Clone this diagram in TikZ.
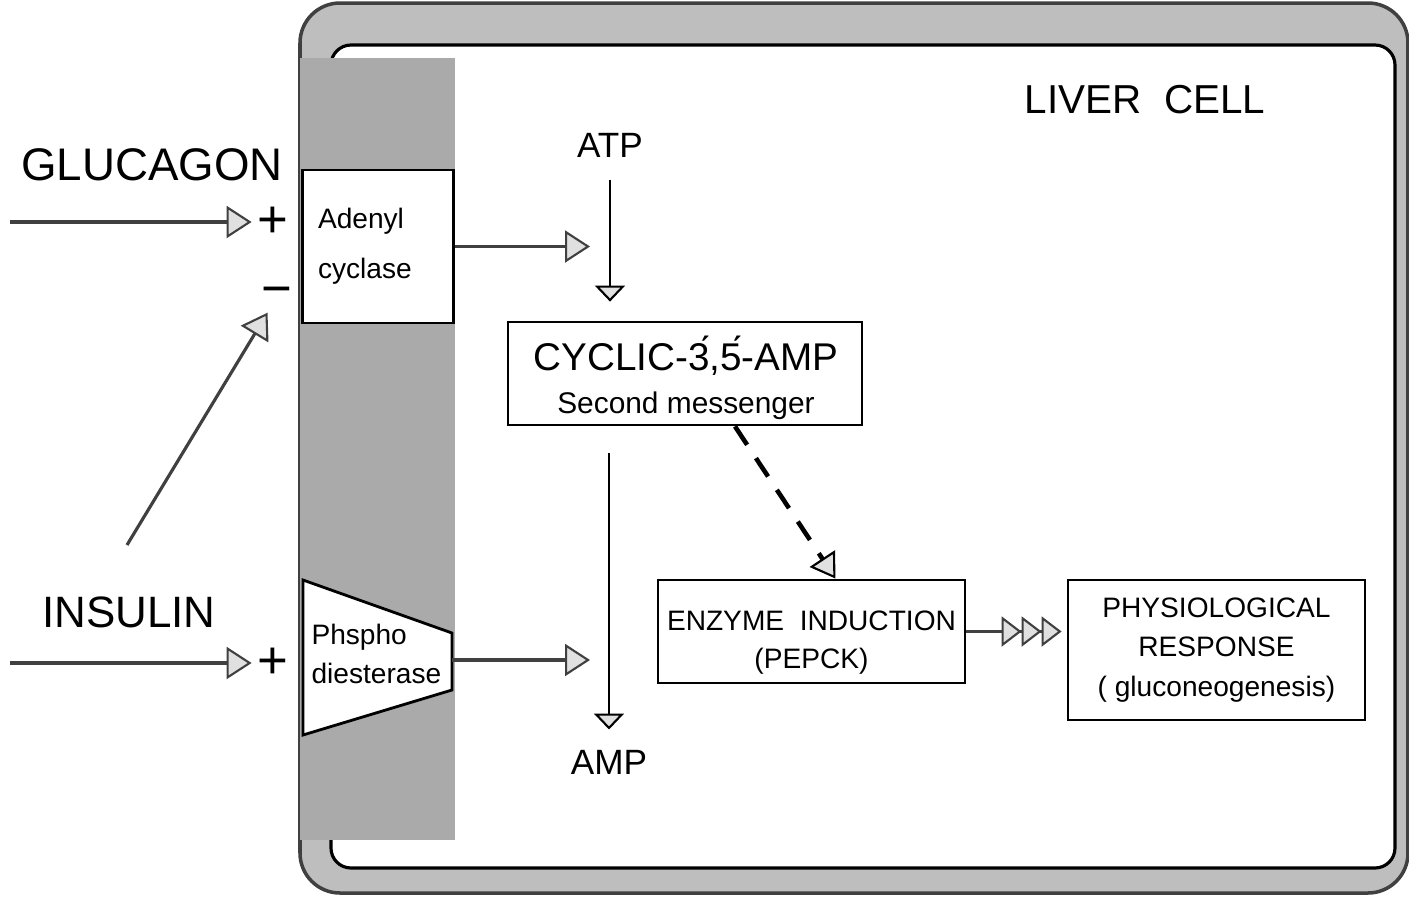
\documentclass[tikz,border=0pt]{standalone}
\usepackage{fontspec}
\setmainfont{Liberation Sans}
\usetikzlibrary{positioning,arrows.meta,calc}
\definecolor{wallgray}{RGB}{190,190,190}
\definecolor{membgray}{RGB}{170,170,170}
\tikzset{
  wall/.style   = {draw=black!75, line width=1pt, fill=wallgray, rounded corners=4mm},
  wbox/.style   = {draw, line width=0.8pt, fill=white, align=center, inner sep=0pt},
  flow/.style   = {-{Triangle[length=2.5mm, width=3.2mm, fill=black!12, line width=0.6pt]}, line width=1.1pt, draw=black!75},
  tflow/.style  = {-{Triangle[length=1.6mm, width=3mm, fill=black!12, line width=0.6pt]}, line width=0.7pt},
  dflow/.style  = {-{Triangle[length=2.4mm, width=3mm, fill=black!12, line width=0.6pt]}, line width=1.3pt, dash pattern=on 2.2mm off 1.6mm},
  sign/.style   = {inner sep=1.5pt, font=\fontsize{15}{15}\selectfont},
}
\newcommand{\sz}[2]{\fontsize{#1}{#2}\selectfont}

\begin{document}
\begin{tikzpicture}[x=0.1mm, y=-0.1mm]
  \useasboundingbox (0,0) rectangle (1409,896);
  % cell wall and membrane
  \draw[wall] (300,3) rectangle (1408,893);
  \draw[fill=white, line width=0.9pt, rounded corners=2mm] (331,45) rectangle (1395,868);
  \fill[membgray] (300,58) rectangle (455,840);
  \node[font=\sz{11.5}{12}] (liver) at (1145,100) {LIVER\ \ CELL};

  % membrane enzymes
  \node[wbox, minimum width=15.1mm, minimum height=15.3mm, text width=12mm, align=left, font=\sz{8}{14.2}] (adc) at (378,246.5) {Adenyl\\cyclase};
  \draw[fill=white, line width=0.8pt] (303,580) -- (452,633) -- (452,690) -- (303,735) -- cycle;
  \node[text width=13.5mm, align=left, font=\sz{8}{11}] (pde) at (379,654) {Phspho\\diesterase};
  \coordinate (pdeR) at (452,660);

  % hormones
  \node[font=\sz{13}{14}] (glu) at (152,165) {GLUCAGON};
  \node[font=\sz{12.5}{14}] (ins) at (129,612) {INSULIN};
  \coordinate (gluIn) at (10,222);
  \coordinate (insIn) at (10,663);
  \coordinate (insTop) at (127,545);
  \node[sign] (plusG) at (273,222) {+};
  \node[sign] (plusI) at (273,663) {+};
  \node[sign] (minusG) at (277,297) {−};
  \draw[flow] (gluIn) -- (plusG);
  \draw[flow] (insIn) -- (plusI);
  \draw[flow, line width=0.9pt] (insTop) -- (minusG);

  % second messenger
  \node[font=\sz{10}{12}] (atp) at (610,145) {ATP};
  \node[font=\sz{10}{12}] (amp) at (609,762) {AMP};
  \node[wbox, minimum width=35.4mm, minimum height=10.3mm] (cyc) at (685,373.5) {};
  \node[align=center, font=\sz{11}{12.4}] (cycT) at (686,378)
    {CYCLIC-\'{3},\'{5}-AMP\\{\sz{8.5}{12.4}Second messenger}};
  \coordinate (atpIn) at (590,246.5);
  \coordinate (ampIn) at (590,660);
  \draw[flow] (adc.east) -- (atpIn);
  \draw[flow] (pdeR) -- (ampIn);
  \draw[tflow, shorten <=1mm, shorten >=1.9mm] (atp.south) -- (atp.south |- cyc.north);
  \draw[tflow, shorten <=2.7mm, shorten >=0.8mm] (cyc.south -| amp.north) -- (amp.north);

  % response
  \node[wbox, minimum width=30.7mm, minimum height=10.3mm] (enz) at (811.5,631.5) {};
  \node[align=center, font=\sz{8}{10.8}] (enzT) at (811.5,643) {ENZYME\ \ INDUCTION\\(PEPCK)};
  \node[wbox, minimum width=29.7mm, minimum height=14mm, font=\sz{8}{11.3}] (phys) at (1216.5,650)
    {PHYSIOLOGICAL\\RESPONSE\\( gluconeogenesis)};
  \draw[dflow] ([xshift=5mm]cyc.south) -- ([xshift=2.4mm]enz.north);
  \draw[line width=1.1pt, draw=black!75, shorten >=0.5mm,
    -{Triangle[length=2mm, width=3mm, fill=black!12, line width=0.6pt] Triangle[length=2mm, width=3mm, fill=black!12, line width=0.6pt] Triangle[length=2mm, width=3mm, fill=black!12, line width=0.6pt]}]
    (enz.east) -- (enz.east -| phys.west);
\end{tikzpicture}
\end{document}
